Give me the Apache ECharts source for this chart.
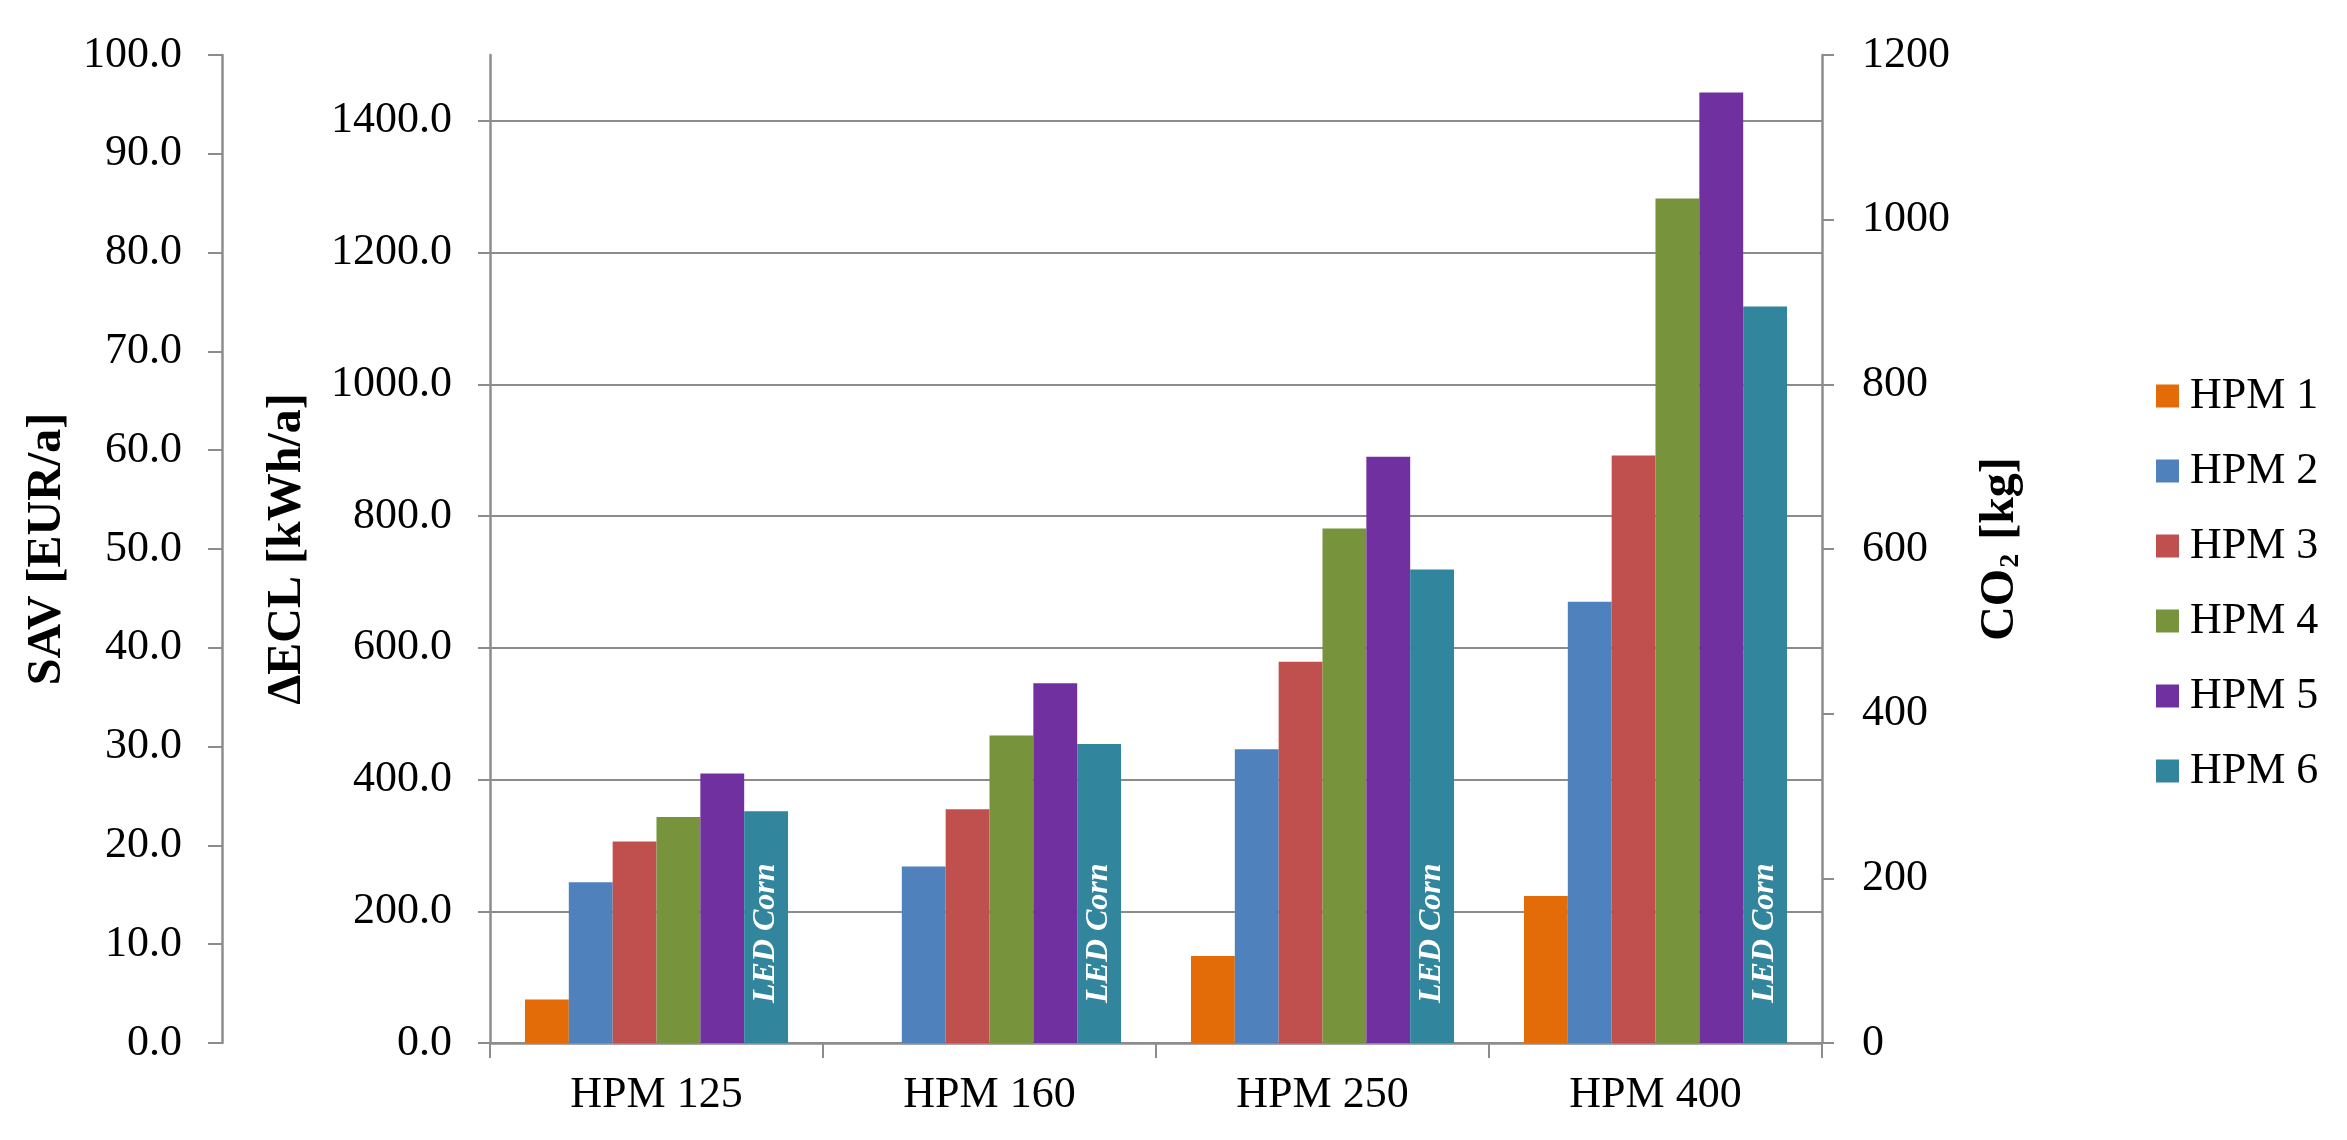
<!DOCTYPE html>
<html>
<head>
<meta charset="utf-8">
<script src="https://cdn.jsdelivr.net/npm/echarts@6/dist/echarts.min.js"></script>
<style>
html,body{margin:0;padding:0;background:#fff;}
#c{width:2347px;height:1140px;}
</style>
</head>
<body>
<div id="c"></div>
<script>
// ---- data ----
const categories = ['HPM 125', 'HPM 160', 'HPM 250', 'HPM 400'];
const seriesNames = ['HPM 1', 'HPM 2', 'HPM 3', 'HPM 4', 'HPM 5', 'HPM 6'];
const hpm1 = [66, -4, 132, 223];
const hpm2 = [244, 268, 446, 670];
const hpm3 = [306, 355, 579, 892];
const hpm4 = [343, 467, 781, 1282];
const hpm5 = [409, 546, 890, 1443];
const hpm6 = [352, 454, 719, 1118];
const barLabel = 'LED Corn';
// axis ranges
const eclMin = 0, eclMax = 1500, eclStep = 200;
const savMin = 0, savMax = 100, savStep = 10;
const co2Min = 0, co2Max = 1200, co2Step = 200;

const colors = ['#E36C09', '#4F81BD', '#C0504D', '#77933C', '#7030A0', '#31859C'];
const FONT = "'Liberation Serif', 'Times New Roman', serif";
const GRAY = '#8c8c8c';
const values = [hpm1, hpm2, hpm3, hpm4, hpm5, hpm6];

const chart = echarts.init(document.getElementById('c'), null, {renderer: 'canvas'});

const series = seriesNames.map((name, i) => {
  const s = {
    name: name,
    type: 'bar',
    yAxisIndex: 0,
    data: values[i],
    barGap: '0%',
    barCategoryGap: '21%',
    itemStyle: {color: colors[i]},
    emphasis: {disabled: true}
  };
  if (i === 5) {
    s.label = {
      show: true,
      formatter: barLabel,
      position: 'insideBottom',
      distance: 40,
      rotate: 90,
      align: 'left',
      verticalAlign: 'middle',
      color: '#ffffff',
      fontFamily: FONT,
      fontStyle: 'italic',
      fontWeight: 'bold',
      fontSize: 32
    };
  }
  return s;
});

const tickLabel = {color: '#000', fontFamily: FONT, fontSize: 44};

const option = {
  animation: false,
  backgroundColor: '#ffffff',
  color: colors,
  grid: {left: 490, right: 525, top: 55, bottom: 97, containLabel: false, outerBoundsMode: 'none'},
  legend: {
    orient: 'vertical',
    left: 2151,
    top: 369,
    itemWidth: 23,
    itemHeight: 23,
    itemGap: 31,
    icon: 'rect',
    data: seriesNames,
    textStyle: {color: '#000', fontFamily: FONT, fontSize: 44, padding: [0, 0, 0, 6]}
  },
  xAxis: {
    type: 'category',
    data: categories,
    axisLine: {show: true, onZero: false, lineStyle: {color: GRAY, width: 2.5}},
    axisTick: {show: true, alignWithLabel: false, length: 15, lineStyle: {color: GRAY, width: 2}},
    axisLabel: Object.assign({margin: 30}, tickLabel),
    splitLine: {show: false}
  },
  yAxis: [
    {
      type: 'value',
      position: 'left',
      min: eclMin, max: eclMax, interval: eclStep,
      name: 'ΔECL [kWh/a]',
      nameLocation: 'middle',
      nameGap: 178,
      nameTextStyle: {color: '#000', fontFamily: FONT, fontSize: 48, fontWeight: 'bold'},
      axisLine: {show: true, lineStyle: {color: GRAY, width: 2.5}},
      axisTick: {show: true, inside: false, length: 12, lineStyle: {color: GRAY, width: 2}},
      axisLabel: Object.assign({margin: 38, showMaxLabel: false,
        formatter: v => (v >= eclMax ? '' : v.toFixed(1))}, tickLabel),
      splitLine: {show: true, showMaxLine: false, lineStyle: {color: GRAY, width: 2}}
    },
    {
      type: 'value',
      position: 'left',
      offset: 268,
      min: savMin, max: savMax, interval: savStep,
      name: 'SAV [EUR/a]',
      nameLocation: 'middle',
      nameGap: 150,
      nameTextStyle: {color: '#000', fontFamily: FONT, fontSize: 48, fontWeight: 'bold'},
      axisLine: {show: true, lineStyle: {color: GRAY, width: 2.5}},
      axisTick: {show: true, inside: false, length: 14, lineStyle: {color: GRAY, width: 2}},
      axisLabel: Object.assign({margin: 40, formatter: v => v.toFixed(1)}, tickLabel),
      splitLine: {show: false}
    },
    {
      type: 'value',
      position: 'right',
      min: co2Min, max: co2Max, interval: co2Step,
      name: 'CO{sub|2} [kg]',
      nameLocation: 'middle',
      nameGap: 155,
      nameTextStyle: {
        color: '#000', fontFamily: FONT, fontSize: 48, fontWeight: 'bold',
        rich: {sub: {fontFamily: FONT, fontSize: 28, fontWeight: 'bold', color: '#000', verticalAlign: 'bottom', padding: [0, 2, 0, 1]}}
      },
      axisLine: {show: true, lineStyle: {color: GRAY, width: 2.5}},
      axisTick: {show: true, inside: false, length: 12, lineStyle: {color: GRAY, width: 2}},
      axisLabel: Object.assign({margin: 40, formatter: v => String(v)}, tickLabel),
      splitLine: {show: false}
    }
  ],
  series: series
};
chart.setOption(option);
</script>
</body>
</html>
